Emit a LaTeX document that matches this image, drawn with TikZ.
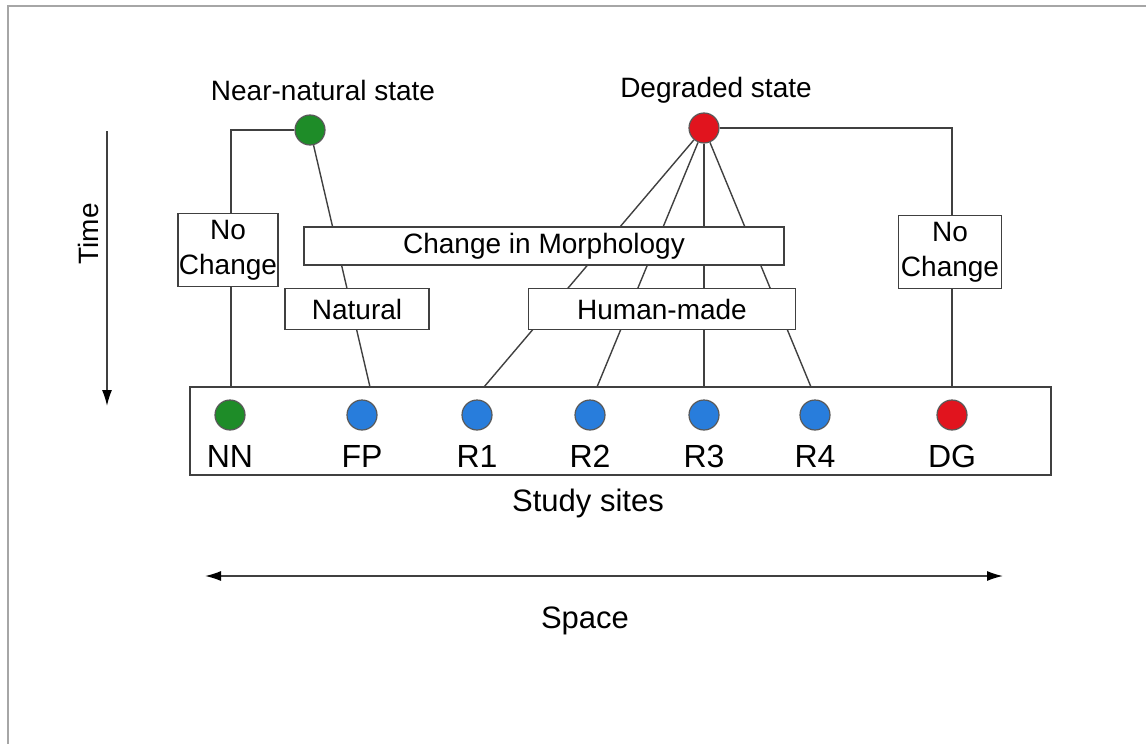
\documentclass[tikz,border=0pt]{standalone}
\usepackage{fontspec}
\setmainfont{Liberation Sans}
\usetikzlibrary{arrows.meta, backgrounds}
\definecolor{sitegreen}{RGB}{30,140,40}
\definecolor{siteblue}{RGB}{40,125,220}
\definecolor{sitered}{RGB}{225,20,30}
\tikzset{
    statedot/.style={circle, draw=black!65, line width=0.6pt, minimum size=15pt, inner sep=0pt},
    labelbox/.style={draw=black!75, fill=white, line width=0.6pt, inner sep=0pt, align=center,
        font=\fontsize{14}{17.5}\selectfont},
    link/.style={draw=black!75, line width=0.7pt}
}

\begin{document}
\begin{tikzpicture}[x=0.5pt, y=-0.5pt, font=\fontsize{14}{16}\selectfont]
    \useasboundingbox (0,0) rectangle (1146,744);
    \draw[gray!70, line width=1.2pt] (8,744) -- (8,6) -- (1146,6);

    % end states
    \node[statedot, fill=sitegreen] (near) at (310,130) {};
    \node[statedot, fill=sitered] (degr) at (704,128) {};
    \node (nearlbl) at (323,90) {Near-natural state};
    \node (degrlbl) at (716,90) {Degraded state};

    % kinds of change
    \node[labelbox, minimum width=50pt, minimum height=36.5pt] (nochL) at (228,250) {No\\Change};
    \node[labelbox, minimum width=51.5pt, minimum height=36.5pt] (nochR) at (950,252) {No\\Change};
    \node[labelbox, minimum width=240pt, minimum height=19pt] (morph) at (544,246) {Change in Morphology};
    \node[labelbox, minimum width=72pt, minimum height=20.5pt] (natural) at (357,309) {Natural};
    \node[labelbox, minimum width=133.5pt, minimum height=20.5pt] (human) at (662,309) {Human-made};

    % study sites
    \node[draw=black!75, line width=0.6pt, minimum width=430.5pt, minimum height=44pt, inner sep=0pt] (study) at (620.5,431) {};
    \foreach \x/\n/\c in {230/NN/sitegreen, 362/FP/siteblue, 477/R1/siteblue, 590/R2/siteblue,
                          704/R3/siteblue, 815/R4/siteblue, 952/DG/sitered} {
        \node[statedot, fill=\c] (\n) at (\x,415) {};
        \node[anchor=base, font=\fontsize{16}{18}\selectfont] (lbl\n) at (\x,467) {\n};
    }
    \node[anchor=base, font=\fontsize{15.5}{18}\selectfont] (sites) at (588,511) {Study sites};

    % where the links meet the site box
    \coordinate (inNN) at (231,387);
    \coordinate (inFP) at (370,387);
    \coordinate (inR1) at (484,387);
    \coordinate (inR2) at (597,387);
    \coordinate (inR3) at (704,387);
    \coordinate (inR4) at (811,387);
    \coordinate (inDG) at (952,387);

    \begin{scope}[on background layer]
        \draw[link] (near.west) -| (inNN);
        \draw[link] (near) -- (inFP);
        \draw[link] (degr.east) -| (inDG);
        \foreach \s in {R1,R2,R3,R4}
            \draw[link] (degr) -- (in\s);
    \end{scope}

    % axes
    \coordinate (timeTop) at (107,131);
    \coordinate (timeEnd) at (107,406);
    \draw[black!75, line width=0.7pt, -{Latex[length=8pt, width=5pt, black]}] (timeTop) -- (timeEnd);
    \node[rotate=90] (timelbl) at (88,234) {Time};

    \coordinate (spaceL) at (205,576);
    \coordinate (spaceR) at (1003,576);
    \draw[black!75, line width=0.7pt, {Latex[length=8pt, width=5pt, black]}-{Latex[length=8pt, width=5pt, black]}] (spaceL) -- (spaceR);
    \node[anchor=base, font=\fontsize{15.5}{18}\selectfont] (spacelbl) at (585,628) {Space};
\end{tikzpicture}
\end{document}
